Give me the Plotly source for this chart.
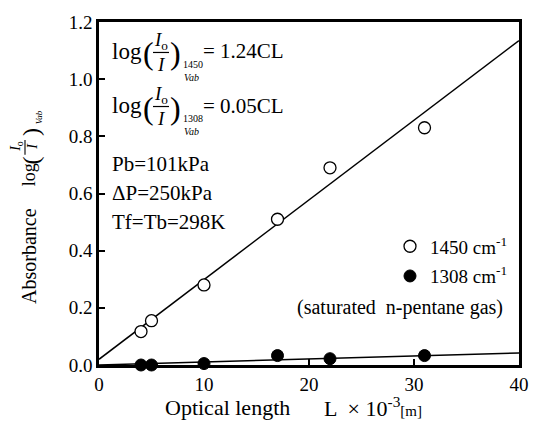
import plotly.graph_objects as go

# ---- data ----
L_1450 = [4, 5, 10, 17, 22, 31]
A_1450 = [0.117, 0.155, 0.28, 0.51, 0.69, 0.83]
L_1308 = [4, 5, 10, 17, 22, 31]
A_1308 = [0.0, 0.0, 0.005, 0.033, 0.022, 0.033]
fit_x = [0, 40]
fit_1450 = [0.02, 1.135]
fit_1308 = [0.0, 0.042]
x_ticks = [0, 10, 20, 30, 40]
y_ticks = [0.0, 0.2, 0.4, 0.6, 0.8, 1.0, 1.2]

W, H = 541, 432
ML, MR, MT, MB = 99, 22, 16, 67
PW, PH = W - ML - MR, H - MT - MB
SERIF = "Liberation Serif, Times New Roman, serif"


def px(x):
    return (x - ML) / PW


def py(y):
    return (H - MB - y) / PH


fig = go.Figure()
fig.add_trace(go.Scatter(x=fit_x, y=fit_1450, mode="lines", line=dict(color="black", width=1.5),
                         showlegend=False, hoverinfo="skip"))
fig.add_trace(go.Scatter(x=fit_x, y=fit_1308, mode="lines", line=dict(color="black", width=1.5),
                         showlegend=False, hoverinfo="skip"))
fig.add_trace(go.Scatter(x=L_1450, y=A_1450, mode="markers", name="1450 cm<sup>-1</sup>",
                         legendgroup="a", cliponaxis=False,
                         marker=dict(symbol="circle", size=12, color="white",
                                     line=dict(color="black", width=1.3))))
fig.add_trace(go.Scatter(x=L_1308, y=A_1308, mode="markers", name="1308 cm<sup>-1</sup>",
                         legendgroup="b", cliponaxis=False,
                         marker=dict(symbol="circle", size=12, color="black",
                                     line=dict(color="black", width=1))))

anns = []
shapes = []


def ann(x, y, text, size, xanchor="left", angle=0):
    anns.append(dict(x=px(x), y=py(y), xref="paper", yref="paper", text=text, showarrow=False,
                     xanchor=xanchor, yanchor="middle", textangle=angle,
                     font=dict(family=SERIF, size=size, color="black")))


# equations
for dy, sub, val in [(0, "1450", "1.24CL"), (55, "1308", "0.05CL")]:
    ann(110, 46 + dy, "log", 23)
    ann(148, 48 + dy, "(", 32, "center")
    ann(161, 35 + dy, "<i>I</i><sub>o</sub>", 19, "center")
    shapes.append(dict(type="line", xref="paper", yref="paper", x0=px(153), x1=px(169),
                       y0=py(47 + dy), y1=py(47 + dy), line=dict(color="black", width=1.2)))
    ann(161, 59 + dy, "<i>I</i>", 19, "center")
    ann(175, 48 + dy, ")", 32, "center")
    ann(181, 59 + dy, sub, 10)
    ann(182, 72 + dy, "<i>Vab</i>", 10)
    ann(201, 46 + dy, "= " + val, 21)

ann(110, 160, "Pb=101kPa", 21)
ann(110, 190, "ΔP=250kPa", 21)
ann(110, 219, "Tf=Tb=298K", 21)
ann(505, 306, "(saturated  n-pentane gas)", 20, "right")

# y-axis title pieces (rotated)
ann(29, 254, "Absorbance", 20, "center", -90)
ann(29, 172, "log", 18, "center", -90)
ann(31, 157, "(", 24, "center", -90)
ann(17, 143, "<i>I</i><sub>o</sub>", 14, "center", -90)
shapes.append(dict(type="line", xref="paper", yref="paper", x0=px(25), x1=px(25),
                   y0=py(136), y1=py(151), line=dict(color="black", width=1.1)))
ann(33, 143, "<i>I</i>", 14, "center", -90)
ann(31, 128, ")", 24, "center", -90)
ann(39, 113, "<i>Vab</i>", 9, "center", -90)

# x-axis title
ann(163, 408, "Optical length", 22)
ann(322, 408, "L  × 10<sup>-3</sup><span style='font-size:15px'>[m]</span>", 22)

fig.update_layout(
    width=W, height=H,
    margin=dict(l=ML, r=MR, t=MT, b=MB),
    paper_bgcolor="white", plot_bgcolor="white",
    font=dict(family=SERIF, size=19, color="black"),
    showlegend=True,
    legend=dict(x=px(390), y=py(225), xanchor="left", yanchor="top",
                bgcolor="rgba(0,0,0,0)", font=dict(family=SERIF, size=19),
                itemwidth=30, tracegroupgap=2),
    annotations=anns,
    shapes=shapes,
)
fig.update_xaxes(range=[0, 40], tickvals=x_ticks, ticktext=[str(v) for v in x_ticks],
                 showline=True, linecolor="black", linewidth=2.5, mirror=True,
                 ticks="inside", ticklen=6, tickwidth=1.5, tickcolor="black",
                 showgrid=False, zeroline=False, tickfont=dict(family=SERIF, size=19))
fig.update_yaxes(range=[0, 1.2], tickvals=y_ticks, ticktext=[f"{v:.1f}" for v in y_ticks],
                 showline=True, linecolor="black", linewidth=2.5, mirror=True,
                 ticks="inside", ticklen=6, tickwidth=1.5, tickcolor="black",
                 showgrid=False, zeroline=False, tickfont=dict(family=SERIF, size=19))

fig.write_html("out.html")
